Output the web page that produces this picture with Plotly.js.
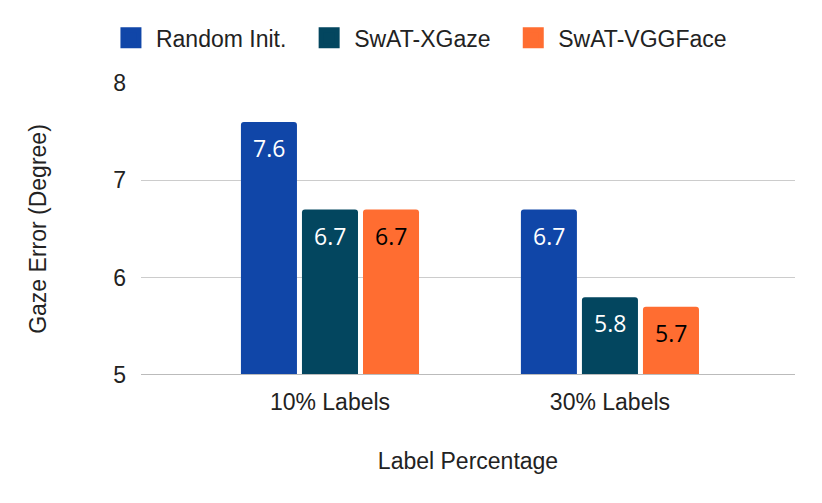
<!DOCTYPE html>
<html>
<head>
<meta charset="utf-8">
<script src="https://cdn.plot.ly/plotly-3.0.1.min.js"></script>
<style>
  html, body { margin: 0; padding: 0; background: #fff; }
  #myChart { width: 822px; height: 503px; }
</style>
</head>
<body>
<div id="myChart"></div>
<script>
// Gaze error per label percentage
var categories = ["10% Labels", "30% Labels"];
var seriesNames = ["Random Init.", "SwAT-XGaze", "SwAT-VGGFace"];
var randomInit = [7.6, 6.7];
var swatXGaze = [6.7, 5.8];
var swatVGGFace = [6.7, 5.7];
var yTicks = [5, 6, 7, 8];

var colors = ["#1046A8", "#03465F", "#FF6D31"];
var textColors = ["#ffffff", "#ffffff", "#000000"];
var values = [randomInit, swatXGaze, swatVGGFace];
var slotPx = 61; // horizontal distance between bars in a group

var data = [];
var annotations = [];

values.forEach(function (vals, i) {
  data.push({
    type: "bar",
    name: seriesNames[i],
    x: categories,
    y: vals,
    marker: { color: colors[i], line: { width: 0 } },
    showlegend: false,
    hoverinfo: "x+y+name",
  });
  // value labels at top inside each bar
  vals.forEach(function (v, j) {
    annotations.push({
      x: categories[j],
      y: v,
      xref: "x",
      yref: "y",
      text: v.toFixed(1),
      showarrow: false,
      xanchor: "center",
      yanchor: "top",
      xshift: (i - 1) * slotPx,
      yshift: -8,
      font: { family: "Open Sans", size: 23, color: textColors[i] },
    });
  });
});

// legend proxies (bigger square swatches)
values.forEach(function (vals, i) {
  data.push({
    type: "scatter",
    mode: "markers",
    name: seriesNames[i] + (i < 2 ? "\u00a0\u00a0" : ""),
    x: [null],
    y: [null],
    marker: { symbol: "square", size: 16, color: colors[i], line: { color: colors[i], width: 5 } },
    hoverinfo: "skip",
  });
});

var layout = {
  width: 822,
  height: 503,
  margin: { l: 141, r: 27, t: 83, b: 128 },
  paper_bgcolor: "#ffffff",
  plot_bgcolor: "#ffffff",
  font: { family: "Liberation Sans, Arial, sans-serif", size: 23, color: "#222222" },
  barmode: "group",
  bargap: 0.346,
  bargroupgap: 0.082,
  barcornerradius: 3,
  showlegend: true,
  legend: {
    orientation: "h",
    x: 0.425,
    xanchor: "center",
    y: 1.155,
    yanchor: "middle",
    font: { family: "Liberation Sans, Arial, sans-serif", size: 23, color: "#222222" },
    itemwidth: 40,
    traceorder: "normal",
  },
  xaxis: {
    type: "category",
    range: [-0.675, 1.661],
    showgrid: false,
    zeroline: false,
    showline: false,
    ticks: "",
    ticklabelstandoff: 11,
    tickfont: { size: 23, color: "#222222" },
    title: {
      text: "Label Percentage",
      font: { size: 23, color: "#222222" },
      standoff: 38,
    },
  },
  yaxis: {
    range: [5, 8],
    tickvals: yTicks,
    ticktext: yTicks.map(String),
    showgrid: true,
    gridcolor: "#cccccc",
    gridwidth: 1.5,
    zeroline: false,
    showline: false,
    ticks: "",
    ticklabelstandoff: 14,
    tickfont: { size: 23, color: "#222222" },
    title: {
      text: "Gaze Error (Degree)",
      font: { size: 23, color: "#222222" },
      standoff: 60,
    },
  },
  annotations: annotations,
  shapes: [
    {
      type: "line",
      xref: "paper",
      yref: "y",
      x0: 0,
      x1: 1,
      y0: 5,
      y1: 5,
      line: { color: "#bbbbbb", width: 2 },
      layer: "above",
    },
  ],
};

Plotly.newPlot("myChart", data, layout, { displayModeBar: false, staticPlot: true });
</script>
</body>
</html>
